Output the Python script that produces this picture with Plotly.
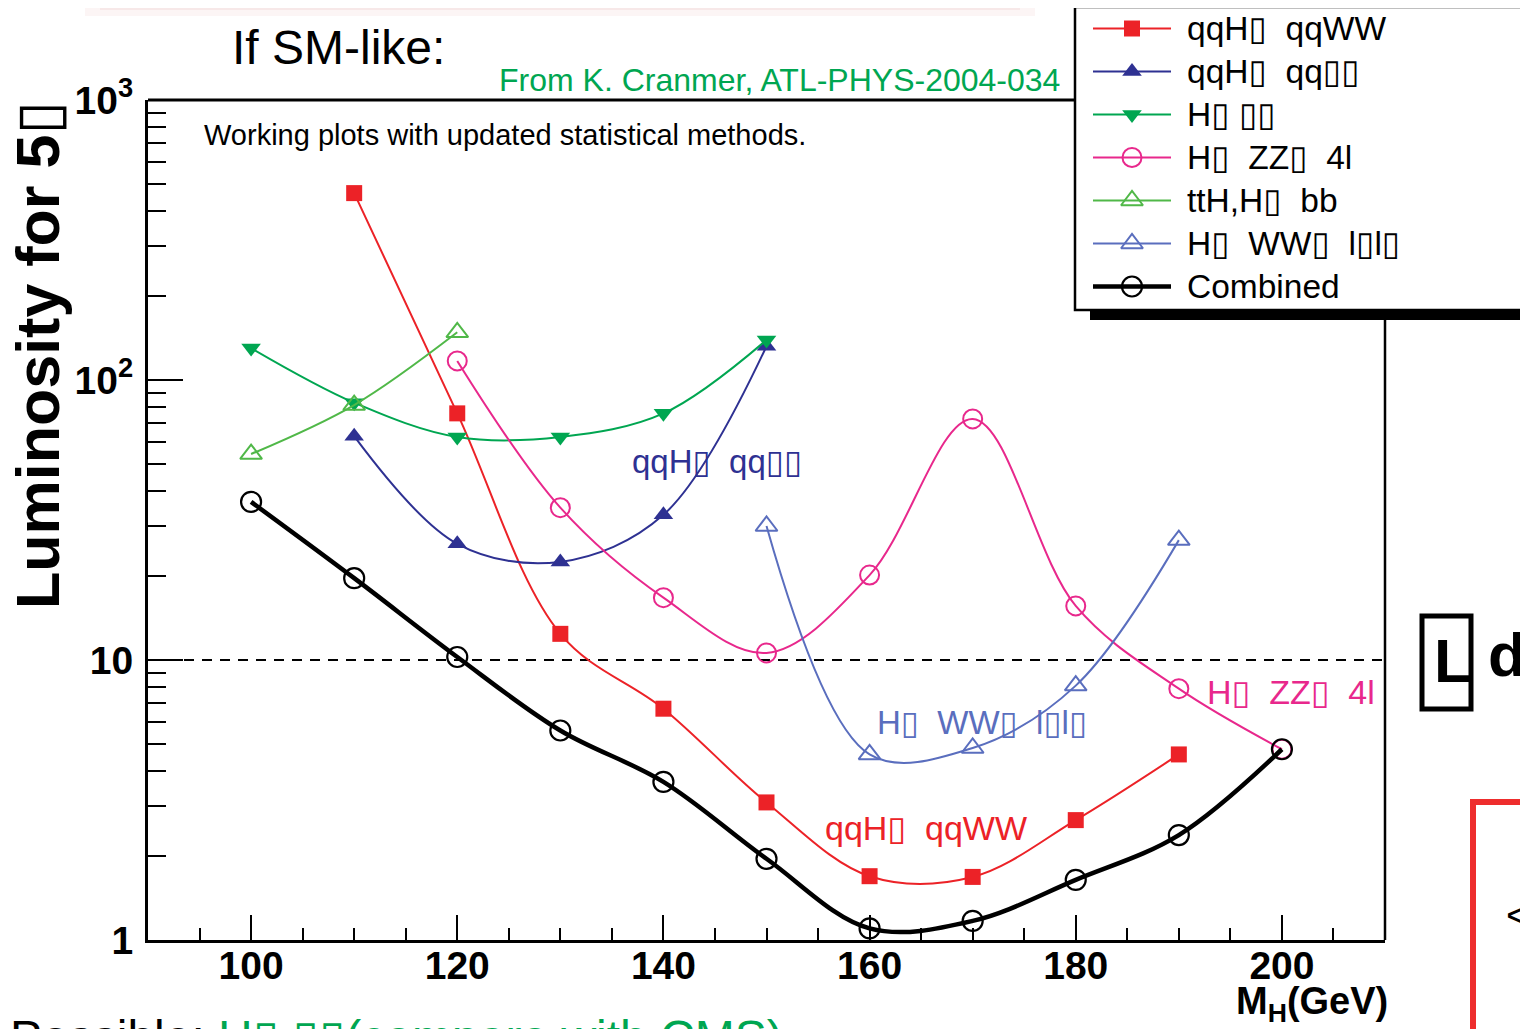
import plotly.graph_objects as go

W, H = 1528, 1029
OFF = 8  # page body margin in the browser
BOX = "\u25af"
NB = "\u00a0"

# ---------------- data ----------------
mh_qqww = [110, 120, 130, 140, 150, 160, 170, 180, 190]
lum_qqww = [465, 76, 12.4, 6.7, 3.1, 1.69, 1.68, 2.68, 4.6]

mh_qqtautau = [110, 120, 130, 140, 150]
lum_qqtautau = [63, 26, 22.4, 33, 132]

mh_gamgam = [100, 110, 120, 130, 140, 150]
lum_gamgam = [130, 83, 62.6, 62.6, 76, 139]

mh_zz4l = [120, 130, 140, 150, 160, 170, 180, 190, 200]
lum_zz4l = [117, 35, 16.7, 10.6, 20.1, 72.6, 15.6, 7.9, 4.8]

mh_tth = [100, 110, 120]
lum_tth = [54.4, 81.4, 148]

mh_wwlvlv = [150, 160, 170, 180, 190]
lum_wwlvlv = [30.1, 4.6, 4.85, 8.1, 26.8]

mh_comb = [100, 110, 120, 130, 140, 150, 160, 170, 180, 190, 200]
lum_comb = [36.7, 19.6, 10.25, 5.6, 3.67, 1.95, 1.10, 1.17, 1.64, 2.37, 4.8]

discovery_threshold = 10
x_range = [90, 210]
x_ticks = [100, 120, 140, 160, 180, 200]
y_ticks = [1, 10, 100, 1000]
y_ticktext = ["1", "10", "10<sup>2</sup>", "10<sup>3</sup>"]

series_names = [
    f"qqH{BOX}{NB} qqWW",
    f"qqH{BOX}{NB} qq{BOX}{BOX}",
    f"H{BOX} {BOX}{BOX}",
    f"H{BOX}{NB} ZZ{BOX}{NB} 4l",
    f"ttH,H{BOX}{NB} bb",
    f"H{BOX}{NB} WW{BOX}{NB} l{BOX}l{BOX}",
    "Combined",
]

RED = "#EC2227"
DBLUE = "#2E3192"
GREEN = "#00A651"
MAGENTA = "#E8288C"
LGREEN = "#50B848"
LBLUE = "#5A6EBE"
BLACK = "#000000"

styles = [
    dict(color=RED, symbol="square", size=16, lw=2, mlw=0),
    dict(color=DBLUE, symbol="triangle-up", size=17, lw=2, mlw=0),
    dict(color=GREEN, symbol="triangle-down", size=17, lw=2, mlw=0),
    dict(color=MAGENTA, symbol="circle-open", size=19, lw=2, mlw=2),
    dict(color=LGREEN, symbol="triangle-up-open", size=19, lw=2, mlw=2),
    dict(color=LBLUE, symbol="triangle-up-open", size=19, lw=2, mlw=2),
    dict(color=BLACK, symbol="circle-open", size=20, lw=4.5, mlw=2.2),
]
datasets = [
    (mh_qqww, lum_qqww),
    (mh_qqtautau, lum_qqtautau),
    (mh_gamgam, lum_gamgam),
    (mh_zz4l, lum_zz4l),
    (mh_tth, lum_tth),
    (mh_wwlvlv, lum_wwlvlv),
    (mh_comb, lum_comb),
]

FONT = "Liberation Sans, Arial, Helvetica, DejaVu Sans, sans-serif"


def px(x):
    return (x - OFF) / W


def py(y):
    return 1 - (y - OFF) / H


fig = go.Figure()

# threshold line
fig.add_trace(go.Scatter(x=x_range, y=[discovery_threshold] * 2, mode="lines",
                         line=dict(color="black", width=2, dash="10px,8px"),
                         showlegend=False, hoverinfo="skip", cliponaxis=False))

for (xs, ys), st, name in zip(datasets, styles, series_names):
    fig.add_trace(go.Scatter(
        x=xs, y=ys, mode="lines+markers", name=name, showlegend=False,
        line=dict(color=st["color"], width=st["lw"], shape="spline", smoothing=1.0),
        marker=dict(symbol=st["symbol"], size=st["size"], color=st["color"],
                    line=dict(color=st["color"], width=st["mlw"])),
        cliponaxis=False,
    ))

# manual legend on its own axes (units: pixels from the legend box top-left)
row_h = 43
row0 = 21.5
for i, (st, name) in enumerate(zip(styles, series_names)):
    yy = row0 + i * row_h
    fig.add_trace(go.Scatter(
        x=[18, 96], y=[yy, yy], mode="lines", xaxis="x2", yaxis="y2",
        line=dict(color=st["color"], width=st["lw"]), showlegend=False, hoverinfo="skip"))
    fig.add_trace(go.Scatter(
        x=[57], y=[yy], mode="markers", xaxis="x2", yaxis="y2",
        marker=dict(symbol=st["symbol"], size=st["size"], color=st["color"],
                    line=dict(color=st["color"], width=st["mlw"])),
        showlegend=False, hoverinfo="skip"))
    fig.add_annotation(x=110, y=yy, xref="x2", yref="y2", text=name, showarrow=False,
                       xanchor="left", yanchor="middle",
                       font=dict(family=FONT, size=33.5, color="black"))

shapes = [
    # faint pink shadow at top
    dict(type="rect", xref="paper", yref="paper", x0=px(85), x1=px(1035), y0=py(16), y1=py(-20),
         fillcolor="rgba(230,175,175,0.12)", line=dict(width=0), layer="below"),
    dict(type="rect", xref="paper", yref="paper", x0=px(100), x1=px(1020), y0=py(10), y1=py(-20),
         fillcolor="rgba(230,175,175,0.18)", line=dict(width=0), layer="below"),
    dict(type="rect", xref="paper", yref="paper", x0=px(115), x1=px(1005), y0=py(4), y1=py(-20),
         fillcolor="rgba(230,175,175,0.2)", line=dict(width=0), layer="below"),
    # frame: top and right parts
    dict(type="line", xref="paper", yref="paper", x0=px(148), x1=px(1075), y0=py(100), y1=py(100),
         line=dict(color="black", width=3)),
    dict(type="line", xref="paper", yref="paper", x0=px(1385), x1=px(1385), y0=py(310), y1=py(940),
         line=dict(color="black", width=2.5)),
    # legend shadow and box
    dict(type="rect", xref="paper", yref="paper", x0=px(1090), x1=px(1545), y0=py(320), y1=py(20),
         fillcolor="black", line=dict(width=0), layer="below"),
    dict(type="rect", xref="paper", yref="paper", x0=px(1075), x1=px(1523), y0=py(310), y1=py(7),
         fillcolor="white", line=dict(color="black", width=2.5), layer="below"),
    # integral tofu box on the right
    dict(type="rect", xref="paper", yref="paper", x0=px(1422), x1=px(1471), y0=py(709), y1=py(616),
         line=dict(color="black", width=5)),
    # red partial box bottom right
    dict(type="rect", xref="paper", yref="paper", x0=px(1473), x1=px(1570), y0=py(1070), y1=py(802),
         line=dict(color="#EE2D2D", width=6)),
]

ann = [
    dict(x=px(230), y=py(48), text="If SM-like:", size=48, color="black", xanchor="left"),
    dict(x=px(497), y=py(80), text="From K. Cranmer, ATL-PHYS-2004-034", size=32, color=GREEN, xanchor="left"),
    dict(x=px(202), y=py(135), text="Working plots with updated statistical methods.", size=29, color="black", xanchor="left"),
    dict(x=px(630), y=py(461), text=f"qqH{BOX}{NB} qq{BOX}{BOX}", size=33, color=DBLUE, xanchor="left"),
    dict(x=px(875), y=py(722), text=f"H{BOX}{NB} WW{BOX}{NB} l{BOX}l{BOX}", size=33, color=LBLUE, xanchor="left"),
    dict(x=px(823), y=py(828), text=f"qqH{BOX}{NB} qqWW", size=34, color=RED, xanchor="left"),
    dict(x=px(1205), y=py(692), text=f"H{BOX}{NB} ZZ{BOX}{NB} 4l", size=34, color=MAGENTA, xanchor="left"),
    dict(x=px(1390), y=py(1004), text="<b>M<sub>H</sub>(GeV)</b>", size=38, color="black", xanchor="right"),
    dict(x=px(8), y=py(1037),
         text=f"Possible: <span style='color:{GREEN}'>H{BOX} {BOX}{BOX}(compare with CMS)</span>",
         size=48, color="black", xanchor="left"),
    dict(x=px(1453), y=py(660), text="<b>L</b>", size=62, color="black", xanchor="center"),
    dict(x=px(1486), y=py(654), text="<b>dt</b>", size=62, color="black", xanchor="left"),
    dict(x=px(1504), y=py(915), text="<", size=40, color="black", xanchor="left"),
]
for a in ann:
    fig.add_annotation(x=a["x"], y=a["y"], xref="paper", yref="paper", text=a["text"],
                       showarrow=False, xanchor=a["xanchor"], yanchor="middle",
                       font=dict(family=FONT, size=a["size"], color=a["color"]))

# y axis title
fig.add_annotation(x=px(38), y=py(355), xref="paper", yref="paper",
                   text=f"<b>Luminosity for 5{BOX}</b>", textangle=-90, showarrow=False,
                   xanchor="center", yanchor="middle",
                   font=dict(family=FONT, size=61, color="black"))

fig.update_layout(
    width=W, height=H,
    margin=dict(l=0, r=0, t=0, b=0, autoexpand=False),
    paper_bgcolor="white", plot_bgcolor="rgba(0,0,0,0)",
    showlegend=False,
    shapes=shapes,
    font=dict(family=FONT, color="black"),
    xaxis=dict(
        domain=[px(148), px(1385)], range=x_range, showgrid=False, zeroline=False, automargin=False,
        showline=True, linecolor="black", linewidth=3,
        tickmode="array", tickvals=x_ticks, ticks="inside", ticklen=25, tickwidth=2, tickcolor="black",
        tickfont=dict(family=FONT, size=39, color="black", weight="bold"),
        ticklabelstandoff=-11,
        minor=dict(dtick=5, tick0=0, ticks="inside", ticklen=12, tickwidth=2, tickcolor="black", showgrid=False),
    ),
    yaxis=dict(
        domain=[py(940), py(100)], type="log", range=[0, 3], showgrid=False, zeroline=False,
        automargin=False,
        showline=True, linecolor="black", linewidth=3,
        tickmode="array", tickvals=y_ticks, ticktext=y_ticktext,
        ticks="inside", ticklen=35, tickwidth=2, tickcolor="black",
        tickfont=dict(family=FONT, size=39, color="black", weight="bold"),
        ticklabelstandoff=4,
        minor=dict(tickvals=[2, 3, 4, 5, 6, 7, 8, 9, 20, 30, 40, 50, 60, 70, 80, 90,
                             200, 300, 400, 500, 600, 700, 800, 900],
                   ticks="inside", ticklen=18, tickwidth=2, tickcolor="black", showgrid=False),
    ),
    # legend axes: domain starts at the page top (y=8); units are pixels below legend top (y=7)
    xaxis2=dict(domain=[px(1075), px(1525)], range=[0, 450], visible=False, anchor="y2", automargin=False),
    yaxis2=dict(domain=[py(310), py(8)], range=[303, 1], visible=False, anchor="x2", automargin=False),
)

fig.write_html("out.html")
